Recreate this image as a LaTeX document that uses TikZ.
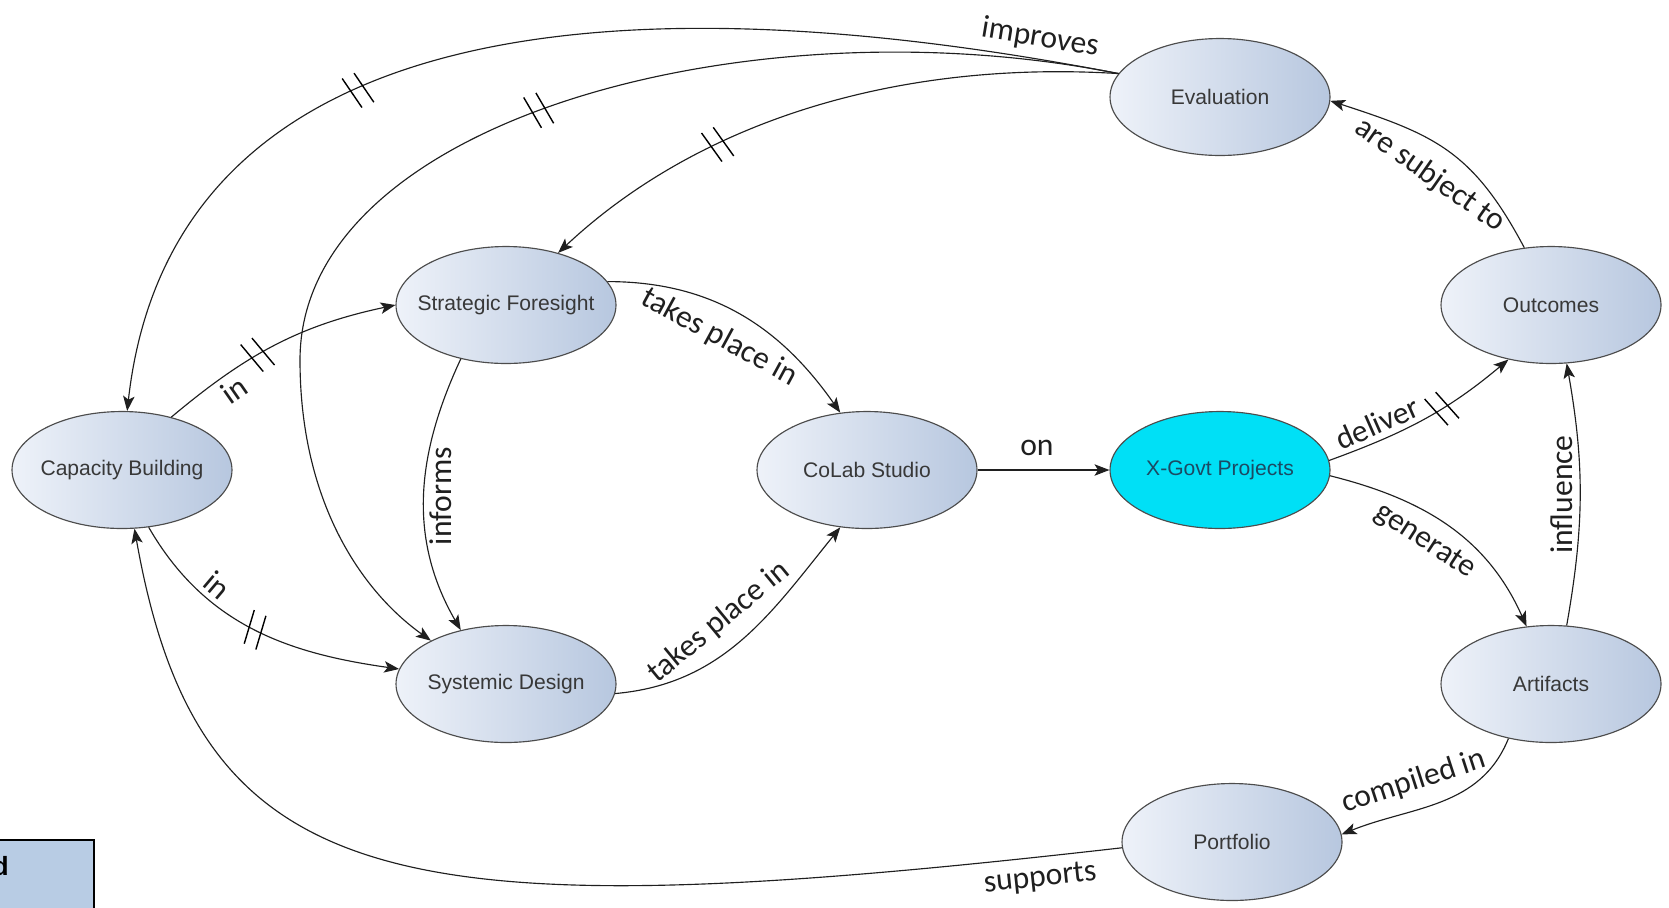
\documentclass[tikz,border=0pt]{standalone}
\usepackage{fontspec}
\setmainfont{Liberation Sans}
\newfontfamily\labelfont{Carlito}
\usetikzlibrary{arrows.meta,shapes.geometric,decorations.markings}

\definecolor{conceptlight}{HTML}{EEF2F9}
\definecolor{conceptdark}{HTML}{B7C7DF}
\definecolor{projectcyan}{HTML}{00E0F6}
\definecolor{projecttext}{HTML}{1C4A63}
\definecolor{legendblue}{HTML}{B8CCE4}

\newcommand{\ctext}[1]{\makebox[0pt]{#1}}

\tikzset{
  concept/.style    = {ellipse, draw=black!70, line width=0.65pt,
                       left color=conceptlight, right color=conceptdark,
                       minimum width=4.4cm, minimum height=2.34cm, inner sep=0pt,
                       font=\fontsize{12}{14}\selectfont, text=black!78},
  project/.style    = {ellipse, draw=black!70, line width=0.65pt, fill=projectcyan,
                       minimum width=4.4cm, minimum height=2.34cm, inner sep=0pt,
                       font=\fontsize{12}{14}\selectfont, text=projecttext},
  link/.style       = {line width=0.65pt, black!88,
                       -{Stealth[length=8.5pt,width=6.5pt,inset=2pt]}},
  linklabel/.style  = {font=\labelfont\fontsize{18}{20}\selectfont, inner sep=3pt},
  breakmark/.style  = {postaction={decorate, decoration={markings,
                         mark=at position #1 with {
                           \draw[-, black, line width=0.8pt] (-3.7pt,0) ++(-80:10pt) -- ++(100:20pt);
                           \draw[-, black, line width=0.8pt] (3.7pt,0) ++(-80:10pt) -- ++(100:20pt);}}}},
  legendbox/.style  = {draw=black, line width=0.9pt, fill=legendblue},
}

\begin{document}
\begin{tikzpicture}[x=0.02cm, y=0.02cm]
  \useasboundingbox (0,0) rectangle (1669,-907);

  % ---- legend (cut off at the corner) -------------------------------------
  \draw[legendbox] (-20,-840) rectangle (94,-930);
  \node[anchor=east, inner sep=0pt, font=\bfseries\fontsize{15}{18}\selectfont] (legendtail) at (9,-866) {d};

  % ---- concepts ----------------------------------------------------------
  \node[concept] (eval)  at (1220,-97)  {\ctext{Evaluation}};
  \node[concept] (outc)  at (1551,-305) {\ctext{Outcomes}};
  \node[concept] (sf)    at (506,-305)  {\ctext{Strategic Foresight}};
  \node[concept] (cb)    at (122,-470)  {\ctext{Capacity Building}};
  \node[concept] (colab) at (867,-470)  {\ctext{CoLab Studio}};
  \node[project] (xgov)  at (1220,-470) {\ctext{X-Govt Projects}};
  \node[concept] (sd)    at (506,-684)  {\ctext{Systemic Design}};
  \node[concept] (art)   at (1551,-684) {\ctext{Artifacts}};
  \node[concept] (port)  at (1232,-842) {\ctext{Portfolio}};

  % ---- feedback from evaluation ------------------------------------------
  \draw[link, breakmark=0.65] (eval.167) .. controls (800,-12) and (180,60) .. (cb.85)
      node[linklabel, pos=0.08, sloped, above, inner sep=4pt] {improves};
  \draw[link, breakmark=0.46] (eval.167) .. controls (750,0) and (300,-120) .. (300,-360)
      .. controls (300,-500) and (360,-590) .. (sd.150);
  \draw[link, breakmark=0.68] (eval.167) .. controls (900,-60) and (700,-120) .. (sf.45);

  % ---- left part ---------------------------------------------------------
  \draw[link, breakmark=0.42] (cb.47) to[out=40, in=192]
      node[linklabel, pos=0.25, sloped, below] {in} (sf.west);
  \draw[link, breakmark=0.5] (cb.-65) to[out=-60, in=172]
      node[linklabel, pos=0.3, sloped, above] {in} (sd.172);
  \draw[link] (sf.-130) to[out=245, in=120]
      node[linklabel, pos=0.5, rotate=90, anchor=north] {informs} (sd.130);
  \draw[link] (sf.13) to[out=0, in=125]
      node[linklabel, pos=0.47, sloped, below, inner sep=9pt] {takes place in} (colab.115);
  \draw[link] (sd.-5) to[out=5, in=231]
      node[linklabel, pos=0.47, sloped, above, inner sep=8pt] {takes place in} (colab.-115);
  \draw[link] (colab) -- node[linklabel, pos=0.45, above, yshift=5pt] {on} (xgov);

  % ---- right part --------------------------------------------------------
  \draw[link, breakmark=0.6] (xgov.5) to[out=20, in=220]
      node[linklabel, pos=0.27, sloped, above] {deliver} (outc.-128);
  \draw[link] (xgov.-3) to[out=-14, in=114]
      node[linklabel, pos=0.45, sloped, below, inner sep=7pt] {generate} (art.113);
  \draw[link] (art.75) to[out=80, in=-80]
      node[linklabel, pos=0.5, rotate=90, anchor=south, inner sep=4pt] {influence} (outc.-75);
  \draw[link] (outc.115) to[out=118, in=-18, looseness=1.15]
      node[linklabel, pos=0.5, sloped, below, inner sep=9pt] {are subject to} (eval.-2);
  \draw[link] (art.-128) to[out=-112, in=22]
      node[linklabel, pos=0.6, sloped, above, inner sep=8pt] {compiled in} (port.4);
  \draw[link] (port.183) .. controls (400,-930) and (200,-900) .. (cb.-78)
      node[linklabel, pos=0.04, sloped, below, inner sep=5pt] {supports};
\end{tikzpicture}
\end{document}
